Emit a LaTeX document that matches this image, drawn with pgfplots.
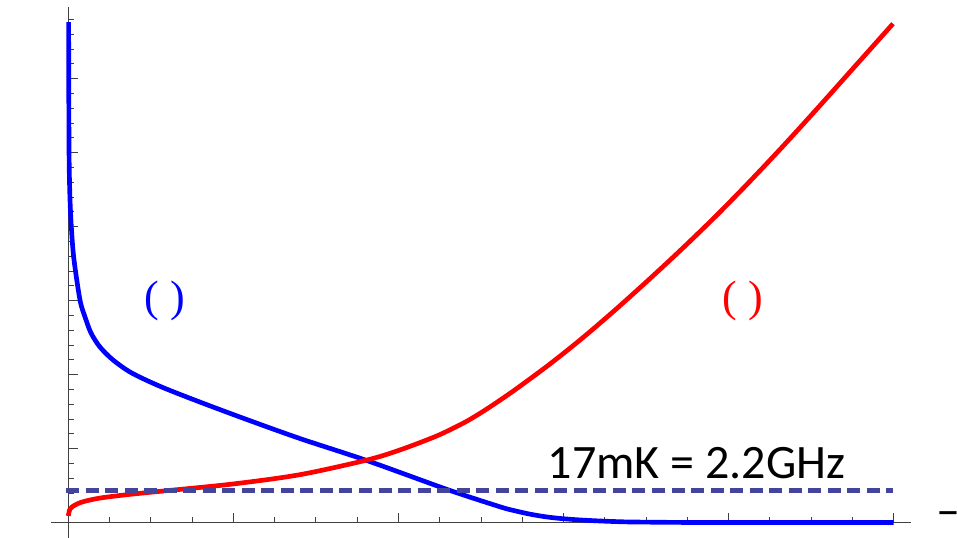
\documentclass[border=0pt]{standalone}
\usepackage{pgfplots}
\pgfplotsset{compat=1.18}
\usepackage{fontspec}
\setmainfont{Carlito}
\newfontfamily\seriffont{Liberation Serif}
\definecolor{dashblue}{RGB}{68,68,156}
\begin{document}
\begin{tikzpicture}
\useasboundingbox (0,0) rectangle (717.75pt,-403.5pt);
\begin{axis}[
  at={(38.25pt,-403.5pt)}, anchor=south west,
  scale only axis, width=645pt, height=398.25pt,
  xmin=-0.42, xmax=20.42, ymin=-1.04, ymax=34.84,
  axis lines=middle,
  axis line style={-, black!75, line width=0.75pt},
  xtick={0,4,...,20}, ytick={0,5,...,30},
  minor xtick={0,...,20}, minor ytick={0,...,34},
  xticklabels={}, yticklabels={},
  tick align=inside, major tick length=7.5pt, minor tick length=4.5pt,
  tick style={black!75, line width=0.75pt},
  clip=false,
]
\addplot[blue, line width=3.5pt, smooth, tension=0.5] coordinates {
(0.007,33.82) (0.017,25.18) (0.041,21.80) (0.082,19.57) (0.138,17.74)
(0.283,15.03) (0.405,13.89) (0.550,12.81) (0.768,11.86) (1.083,10.99)
(1.536,10.11) (2.263,9.16) (3.232,8.10) (4.330,6.96) (5.614,5.68)
(7.238,4.19) (9.200,2.22) (10.46,1.07) (10.82,0.80) (11.19,0.57)
(11.55,0.40) (11.92,0.28) (12.40,0.18) (12.88,0.11) (13.49,0.05)
(14.10,0.03) (15.30,0.01) (20.0,0.01)
};
\addplot[red, line width=3.5pt, smooth, tension=0.5] coordinates {
(0,0.45) (0.041,0.92) (0.162,1.19) (0.356,1.41) (0.768,1.66)
(1.495,1.91) (2.392,2.16) (3.991,2.61) (5.614,3.24) (7.238,4.23)
(8.037,4.91) (8.837,5.75) (9.249,6.27) (9.661,6.86) (10.048,7.51)
(10.460,8.27) (10.872,9.07) (11.672,10.72) (12.479,12.52) (13.288,14.46)
(14.096,16.49) (14.902,18.58) (15.709,20.76) (16.516,23.06) (17.323,25.45)
(18.130,27.92) (18.937,30.44) (19.744,32.96) (19.984,33.71)
};
\addplot[dashblue, line width=3.75pt, dash pattern=on 9.75pt off 4.9pt] coordinates {
(-0.056,2.20) (19.98,2.20)
};
\node[anchor=base, font=\fontsize{36}{42}\selectfont] at (axis cs:15.22,3.01) {17mK = 2.2GHz};
\node[blue, font=\seriffont\fontsize{33}{38}\selectfont] at (axis cs:2.345,15.0) {( )};
\node[red, font=\seriffont\fontsize{33}{38}\selectfont] at (axis cs:16.35,15.0) {( )};
\node[anchor=base west, inner sep=0pt, font=\fontsize{36}{42}\selectfont] at (axis cs:21.03,-0.23) {–};
\end{axis}
\end{tikzpicture}
\end{document}
